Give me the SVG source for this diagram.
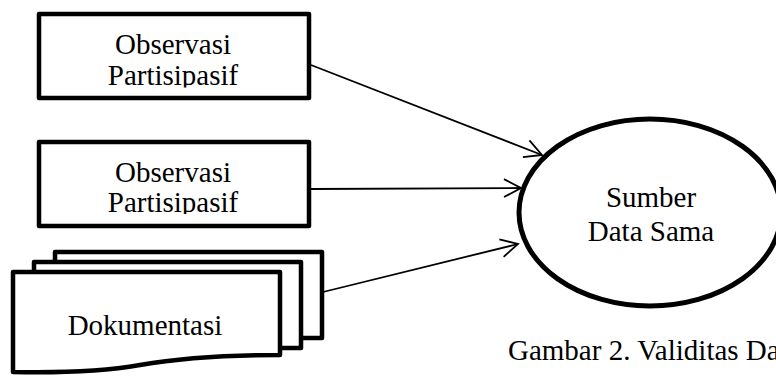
<svg xmlns="http://www.w3.org/2000/svg" width="776" height="377" viewBox="0 0 776 377">
<style>
.box{fill:#fff;stroke:#000;stroke-width:4.5;stroke-linejoin:round}
.t{font-family:"Liberation Serif","Times New Roman",serif;font-size:29px;fill:#000;text-anchor:middle}
.c{fill:none;stroke:#000;stroke-width:1.8}
</style>
<defs>
<marker id="ah" markerWidth="22" markerHeight="22" refX="18" refY="10" orient="auto" markerUnits="userSpaceOnUse">
<path d="M1,1 L18,10 L1,19" fill="none" stroke="#000" stroke-width="1.8"/>
</marker>
<clipPath id="cl1"><rect x="0" y="0" width="776" height="87.5"/></clipPath>
<clipPath id="cl2"><rect x="0" y="120" width="776" height="94"/></clipPath>
</defs>
<g id="connectors">
<line class="c" x1="311" y1="65" x2="542" y2="155" marker-end="url(#ah)"/>
<line class="c" x1="311" y1="189" x2="521" y2="188" marker-end="url(#ah)"/>
<line class="c" x1="323" y1="292" x2="518" y2="244" marker-end="url(#ah)"/>
</g>
<g id="obs1">
<rect class="box" x="39" y="14" width="270" height="84"/>
<g clip-path="url(#cl1)">
<text class="t" x="173" y="54">Observasi</text>
<text class="t" x="173" y="85">Partisipasif</text>
</g>
</g>
<g id="obs2">
<rect class="box" x="39" y="142" width="270" height="84"/>
<g clip-path="url(#cl2)">
<text class="t" x="173" y="182">Observasi</text>
<text class="t" x="173" y="212">Partisipasif</text>
</g>
</g>
<g id="dok">
<rect class="box" x="55" y="252" width="267" height="86"/>
<rect class="box" x="34" y="262" width="267" height="86"/>
<path class="box" d="M13,272 H280 V355 C220,355 180,358 140,365 C100,372 60,373 13,372 Z"/>
<text class="t" x="145" y="335">Dokumentasi</text>
</g>
<g id="sumber">
<ellipse cx="650" cy="212.5" rx="131" ry="93.5" fill="#fff" stroke="#000" stroke-width="5"/>
<text class="t" x="651" y="207">Sumber</text>
<text class="t" x="651" y="241">Data Sama</text>
</g>
<text class="t" x="508" y="360" style="text-anchor:start">Gambar 2. Validitas Da</text>
</svg>
